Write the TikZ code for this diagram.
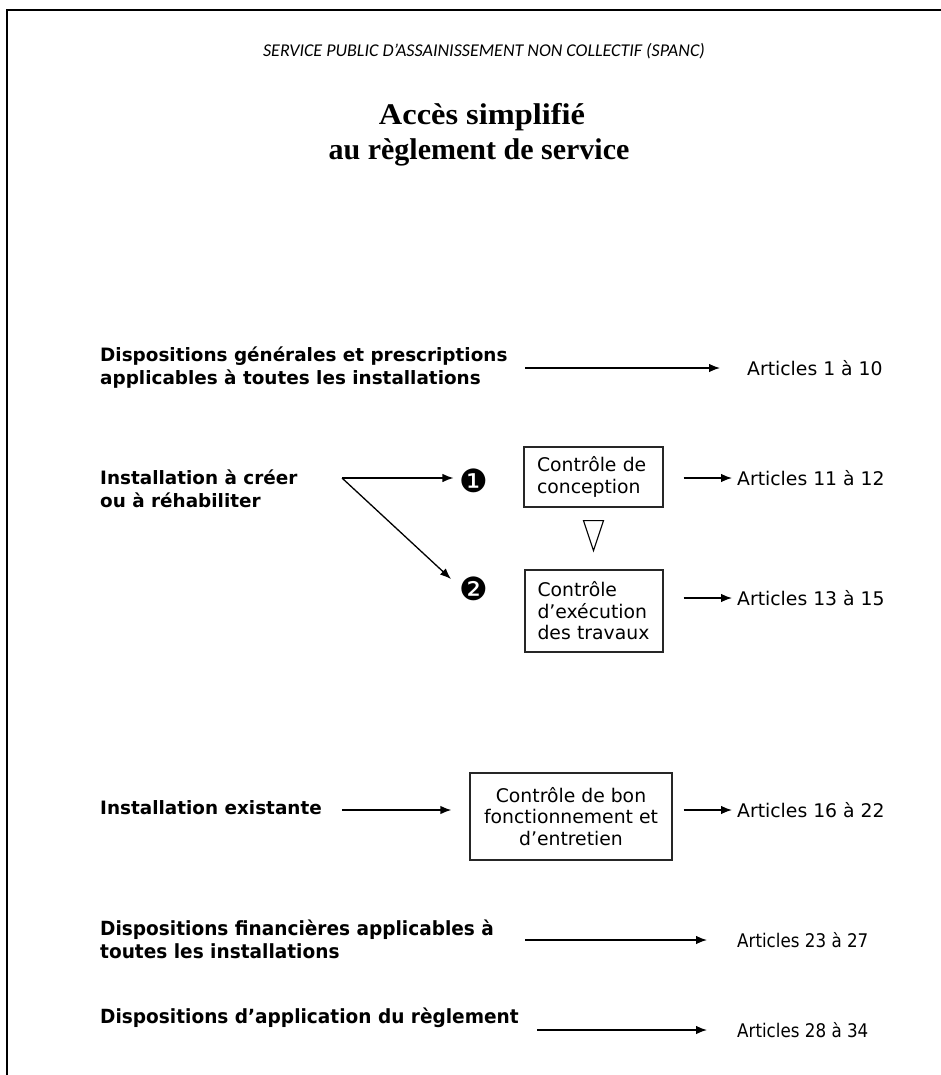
\documentclass[tikz,border=0pt]{standalone}
\usepackage{fontspec}
\setmainfont{DejaVu Sans}
\newfontfamily\hdrfont{Carlito}
\newfontfamily\ttlfont{Liberation Serif}
\newfontfamily\vfont{DejaVu Sans}
\newfontfamily\tfont{DejaVu Sans}[FakeStretch=0.89]
\newfontfamily\tbfont{DejaVu Sans Bold}[FakeStretch=0.95]
\usetikzlibrary{arrows.meta}
\begin{document}
\begin{tikzpicture}[x=1pt,y=-1pt,
  lblb/.style={anchor=west,inner sep=0pt,align=left,font=\vfont\bfseries\fontsize{18.4}{23}\selectfont},
  lblt/.style={anchor=west,inner sep=0pt,align=left,font=\tbfont\fontsize{19.5}{23}\selectfont},
  art/.style={anchor=west,inner sep=0pt,font=\vfont\fontsize{18.8}{22}\selectfont},
  artt/.style={anchor=west,inner sep=0pt,font=\tfont\fontsize{18.8}{22}\selectfont},
  box/.style={draw=black!85,line width=1.3pt,inner sep=0pt,font=\vfont\fontsize{18.8}{21.5}\selectfont},
  num/.style={inner sep=0pt,font=\vfont\fontsize{32}{32}\selectfont},
  arr/.style={line width=1.3pt,-{Latex[length=11pt,width=8.5pt]}},
  frame/.style={line width=2.5pt},
  ttl/.style={inner sep=0pt,font=\ttlfont\bfseries\fontsize{30}{32}\selectfont}
]
\useasboundingbox (0,0) rectangle (941,1075);
% frame
\coordinate (fl) at (7,1080);
\coordinate (fc) at (7,10);
\coordinate (fr) at (945,10);
\draw[frame] (fl) -- (fc) -- (fr);
% titles
\node[inner sep=0pt,font=\hdrfont\itshape\fontsize{18}{20}\selectfont] (hdr) at (484,51) {SERVICE PUBLIC D’ASSAINISSEMENT NON COLLECTIF (SPANC)};
\node[ttl,xscale=1.08] (t1) at (482,117) {Accès simplifié};
\node[ttl] (t2) at (479,152) {au règlement de service};
% row 1
\node[lblb] (d1) at (100,368) {Dispositions générales et prescriptions\\applicables à toutes les installations};
\node[art] (art1) at (747,368) {Articles 1 à 10};
\coordinate (a1) at (525,368);
\draw[arr,shorten >=27pt] (a1) -- (art1.west);
% row 2
\node[lblb] (i1) at (100,489) {Installation à créer\\ou à réhabiliter};
\node[num] (n1) at (474,481) {❶};
\node[num] (n2) at (474,589) {❷};
\coordinate (split) at (342,478);
\coordinate (e2) at (451,579);
\draw[arr,shorten >=6pt] (split) -- (split -| n1.west);
\draw[arr] (split) -- (e2);
\node[box,minimum width=139pt,minimum height=60pt,align=left,text width=113pt] (box1) at (593.5,477) {Contrôle de\\conception};
\node[box,minimum width=138pt,minimum height=82pt,align=left,text width=113pt] (box2) at (594,611) {Contrôle\\d’exécution\\des travaux};
\draw[line width=1.1pt,line join=miter] ([shift={(-10,13)}]box1.south) -- ++(20,0) -- ++(-10,30) -- cycle;
\node[art] (art2) at (737,478) {Articles 11 à 12};
\node[art] (art3) at (737,598) {Articles 13 à 15};
\draw[arr,shorten <=20pt,shorten >=5pt] (box1.east |- art2) -- (art2.west);
\draw[arr,shorten <=20pt,shorten >=5pt] (box2.east |- art3) -- (art3.west);
% row 3
\node[lblb] (ie) at (100,808) {Installation existante};
\node[box,minimum width=202pt,minimum height=87pt,align=center] (box3) at (571,816.5) {Contrôle de bon\\fonctionnement et\\d’entretien};
\node[art] (art4) at (737,810) {Articles 16 à 22};
\draw[arr,shorten <=20pt,shorten >=18pt] (ie.east |- art4) -- (box3.west |- art4);
\draw[arr,shorten <=11pt,shorten >=5pt] (box3.east |- art4) -- (art4.west);
% row 4
\node[lblt] (fin) at (100,939) {Dispositions financières applicables à\\toutes les installations};
\node[artt] (art5) at (737,940) {Articles 23 à 27};
\coordinate (a5) at (525,940);
\draw[arr,shorten >=30pt] (a5) -- (art5.west);
% row 5
\node[lblt] (app) at (100,1018) {Dispositions d’application du règlement};
\node[artt] (art6) at (737,1030) {Articles 28 à 34};
\coordinate (a6) at (537,1030);
\draw[arr,shorten >=30pt] (a6) -- (art6.west);
\end{tikzpicture}
\end{document}
